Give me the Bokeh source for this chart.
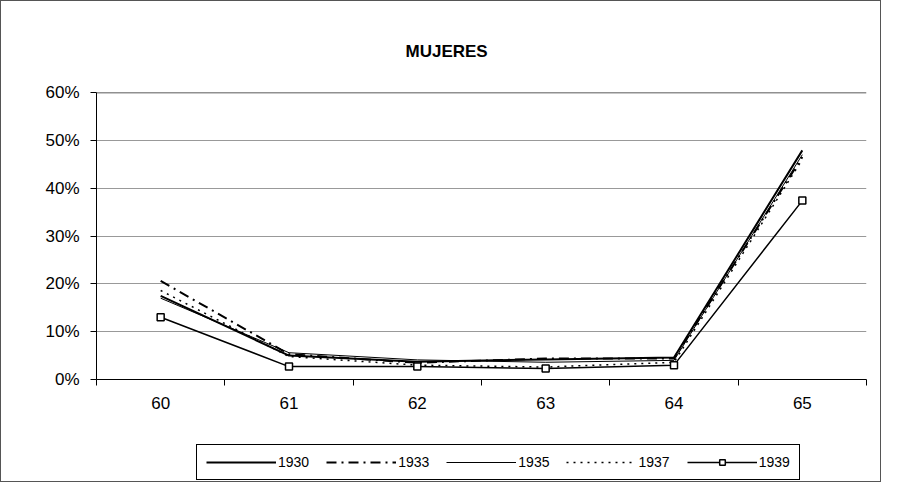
from bokeh.models import Range1d, FixedTicker, PrintfTickFormatter, Legend, LegendItem, Span
from bokeh.layouts import column
from bokeh.plotting import figure
from bokeh.embed import file_html
from bokeh.resources import INLINE

FONT = "Liberation Sans"

# edades (categorias del eje x) y porcentajes por anio
ages = ["60", "61", "62", "63", "64", "65"]
y1930 = [17.5, 5.0, 3.7, 4.2, 4.6, 47.9]
y1933 = [20.6, 5.3, 3.5, 4.4, 4.4, 46.5]
y1935 = [17.0, 5.6, 4.1, 3.6, 4.0, 47.0]
y1937 = [18.6, 4.8, 3.0, 2.6, 3.6, 46.0]
y1939 = [13.0, 2.7, 2.7, 2.3, 3.0, 37.4]
y_ticks = [0, 10, 20, 30, 40, 50, 60]
years = ["1930", "1933", "1935", "1937", "1939"]

# estilo de cada serie: (grosor, trazo)
STYLES = [(2, "solid"), (2, "10 5 2 5"), (1, "solid"), (1.5, "2 5"), (1.5, "solid")]


def main():
    xs = [i + 0.5 for i in range(len(ages))]
    series = [y1930, y1933, y1935, y1937, y1939]

    p = figure(width=879, height=422, output_backend="svg", toolbar_location=None,
               x_range=Range1d(0, len(ages)), y_range=Range1d(0, y_ticks[-1]),
               min_border_left=95, min_border_right=14, min_border_top=91,
               min_border_bottom=44, title="MUJERES")
    p.title.align = "left"
    p.title.offset = 309
    p.title.text_font = FONT
    p.title.text_font_size = "17px"
    p.title.text_font_style = "bold"
    p.title.text_color = "black"
    p.title.standoff = 64
    p.outline_line_color = None

    # eje x: etiquetas en el centro de cada categoria, marcas entre categorias
    p.xaxis.ticker = FixedTicker(ticks=xs, minor_ticks=list(range(len(ages) + 1)))
    p.xaxis.major_label_overrides = {x: a for x, a in zip(xs, ages)}
    p.xaxis.major_tick_out = 0
    p.xaxis.major_tick_in = 0
    p.xaxis.minor_tick_out = 6
    p.xaxis.minor_tick_in = 0
    p.xaxis.minor_tick_line_color = "black"
    p.xaxis.axis_line_color = "black"
    p.xaxis.major_label_standoff = 11
    p.xgrid.visible = False

    p.yaxis.ticker = FixedTicker(ticks=y_ticks)
    p.yaxis.formatter = PrintfTickFormatter(format="%d%%")
    p.yaxis.major_tick_out = 6
    p.yaxis.major_tick_in = 0
    p.yaxis.minor_tick_line_color = None
    p.yaxis.axis_line_color = "black"
    p.yaxis.major_label_standoff = 11
    p.ygrid.grid_line_color = "#999999"
    p.ygrid.grid_line_width = 1
    p.add_layout(Span(location=y_ticks[-1], dimension="width",
                      line_color="#222222", line_width=1.5))

    for ax in (p.xaxis, p.yaxis):
        ax.major_label_text_font = FONT
        ax.major_label_text_font_size = "17px"
        ax.major_label_text_color = "black"

    for ys, (lw, dash) in zip(series, STYLES):
        p.line(xs, ys, color="black", line_width=lw, line_dash=dash)
    p.scatter(xs, y1939, marker="square", size=7, fill_color="white",
              line_color="black", line_width=1.5)

    # figura aparte solo para la leyenda, bajo el grafico (sus series quedan
    # fuera de rango: solo sirven para dibujar las muestras de la leyenda)
    lg = figure(width=879, height=58, output_backend="svg", toolbar_location=None,
                x_range=Range1d(100, 101), y_range=Range1d(100, 101),
                x_axis_location=None, y_axis_location=None, min_border=0)
    lg.outline_line_color = None
    lg.grid.visible = False
    items = []
    for year, ys, (lw, dash) in zip(years, series, STYLES):
        rs = [lg.line(xs, ys, color="black", line_width=lw, line_dash=dash)]
        if year == years[-1]:
            rs.append(lg.scatter(xs, ys, marker="square", size=6, fill_color="white",
                                 line_color="black", line_width=1.5))
        items.append(LegendItem(label=year, renderers=rs))

    legend = Legend(items=items, orientation="horizontal", location=(100, 1))
    legend.label_text_font = FONT
    legend.label_text_font_size = "14px"
    legend.label_text_color = "black"
    legend.glyph_width = 70
    legend.glyph_height = 14
    legend.label_standoff = 2
    legend.spacing = 17
    legend.padding = 9
    legend.margin = 0
    legend.border_line_color = "black"
    legend.border_line_width = 1.5
    legend.border_line_alpha = 1
    lg.add_layout(legend)

    layout = column(p, lg, spacing=0, styles={"border": "1px solid #555"})
    open("out.html", "w").write(file_html(layout, INLINE))


if __name__ == "__main__":
    main()
